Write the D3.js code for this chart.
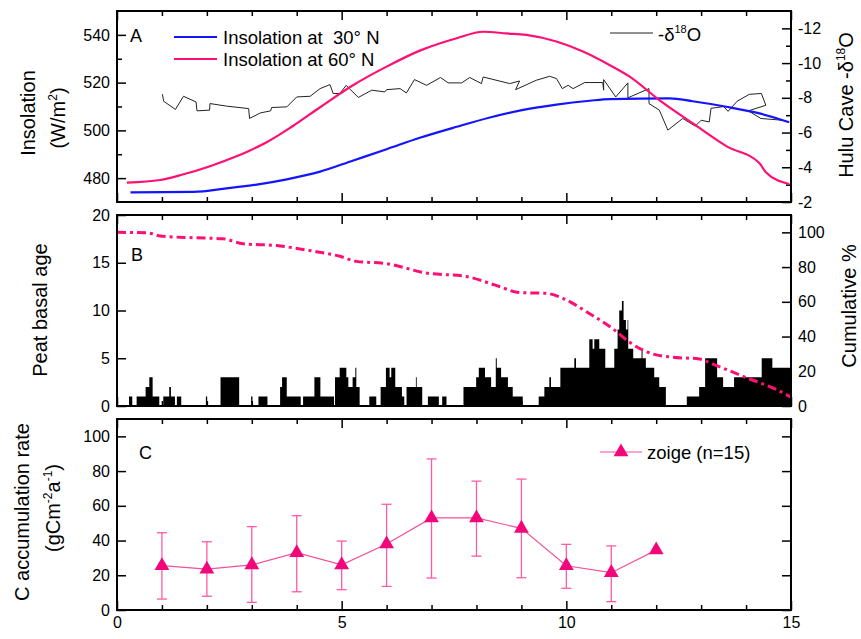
<!DOCTYPE html>
<html>
<head>
<meta charset="utf-8">
<script src="https://cdn.jsdelivr.net/npm/d3@7"></script>
<style>
  body { margin: 0; background: #fff; }
  svg { font-family: "Liberation Sans", Arial, sans-serif; }
  .tick text { font-size: 16px; fill: #000; }
  .tick line { stroke: #000; stroke-width: 1.5; }
</style>
</head>
<body>
<div id="chart"></div>
<script>
/* CONSTANTS AND GLOBALS */
const width = 861;
const height = 639;
const left = 117, right = 791;
const panelA = {top: 11, bottom: 202};
const panelB = {top: 215, bottom: 406};
const panelC = {top: 419, bottom: 610};

const pink = "#ff0f73";
const blue = "#1414ff";
const magenta = "#f2077b";

// DATA
// A: insolation (W/m2), age in ka
const ins30Age = [0.3, 1.7, 2.44, 3.11, 3.78, 4.52, 5.26, 6.0, 6.74, 7.56, 8.3, 9.04, 9.78, 10.52, 10.96, 12.3, 12.81, 13.56, 14.3, 14.96];
const ins30Val = [474, 474.2, 475.7, 477.3, 479.5, 482.7, 487.4, 492.1, 496.9, 501.5, 505.4, 508.6, 510.8, 512.4, 513.1, 513.4, 512.2, 509.9, 507.1, 503.4];
const ins60Age = [0.22, 0.96, 1.48, 2.07, 2.59, 2.96, 3.33, 3.89, 4.52, 5.26, 6.0, 6.74, 7.56, 8.15, 8.67, 9.11, 9.78, 10.37, 10.89, 11.41, 12.07, 12.81, 13.56, 14.3, 14.44, 14.96];
const ins60Val = [478.1, 479.2, 481.6, 485, 488.6, 491.6, 495, 501.5, 509.7, 519, 526.7, 533.4, 538.6, 541.3, 540.6, 540, 537.2, 533, 528.1, 522.5, 512.7, 503, 493.4, 486.2, 482.5, 477.5];
// Hulu cave -d18O (kept in record order, line loops back in places)
const d18Age = [1.01,1.04,1.30,1.48,1.76,1.78,2.06,2.07,2.44,2.93,2.95,3.19,3.42,3.44,3.78,4.0,4.30,4.52,4.74,4.81,4.96,5.10,5.37,5.67,5.96,6.0,6.30,6.44,6.62,6.89,7.2,7.37,7.67,7.85,8.11,8.15,8.74,8.96,8.87,9.33,9.63,9.78,9.91,10.04,10.15,10.41,10.81,10.83,10.83,11.1,11.37,11.37,11.84,11.84,12.07,12.26,12.59,12.87,13.0,13.18,13.22,13.35,13.5,13.6,13.8,14.07,14.34,14.44,14.05,14.33,14.8];
const d18Val = [-8.21,-7.8,-7.33,-8.09,-7.76,-7.25,-7.29,-7.67,-7.52,-7.38,-6.81,-7.13,-7.25,-7.44,-7.48,-8.05,-8.09,-8.53,-8.76,-8.25,-8.25,-8.72,-8.02,-8.44,-8.34,-8.47,-8.53,-8.28,-9.05,-8.72,-9.17,-8.86,-8.86,-9.17,-8.82,-9.2,-8.82,-8.97,-8.47,-9.01,-9.24,-9.11,-8.53,-8.72,-8.53,-8.88,-8.88,-8.44,-9.05,-8.05,-8.86,-8.0,-8.53,-7.67,-7.29,-6.14,-6.81,-6.37,-6.71,-6.61,-7.4,-7.44,-7.5,-7.22,-7.8,-8.2,-8.25,-7.57,-7.25,-6.81,-6.71];

// B: peat basal age histogram (step starts, counts) and cumulative %
const histStart = [0,0.267,0.34,0.437,0.637,0.719,0.793,0.941,1.03,1.163,1.2,1.289,1.333,1.43,1.978,2.007,2.304,2.719,2.985,3.015,3.148,3.348,3.63,3.674,3.778,4.089,4.141,4.393,4.526,4.83,4.852,4.956,5.104,5.148,5.244,5.304,5.326,5.4,5.615,5.77,5.867,5.985,6.067,6.104,6.193,6.341,6.393,6.444,6.652,6.67,6.793,6.919,7.163,7.237,7.333,7.711,7.993,8.052,8.19,8.326,8.43,8.452,8.548,8.7,8.807,9.03,9.385,9.511,9.622,9.659,9.867,10.178,10.215,10.511,10.585,10.622,10.733,10.867,11.067,11.141,11.178,11.237,11.274,11.326,11.363,11.378,11.489,11.674,11.696,11.77,11.956,12.067,12.215,12.681,12.956,13.089,13.356,13.489,13.733,14.348,14.585];
const histCount = [0,1,0,1,2,3,1,0,1,2,1,0,1,0,1,0,3,0,1,0,1,0,2,3,1,0,1,3,1,0,3,4,3,2,3,4,2,0,1,0,2,4,3,4,2,1,0,2,3,2,0,1,0,1,0,2,3,4,3,2,5,4,3,2,1,0,1,2,3,2,4,5,4,7,6,7,6,4,6,8,10,11,9,8,9,6,5,6,5,4,3,2,0,1,2,5,3,2,3,5,4];
const cumAge = [0, 0.66, 0.96, 1.7, 2.36, 2.81, 3.55, 4.29, 4.96, 5.33, 6.0, 6.88, 7.77, 8.29, 8.51, 8.96, 9.55, 9.92, 10.51, 11.03, 11.4, 11.92, 12.36, 12.96, 13.25, 13.99, 14.88, 15];
const cumVal = [100, 99.8, 97.9, 96.9, 96.3, 93.4, 92.4, 89.5, 86.2, 83.3, 82, 76.6, 74.6, 70.7, 68.8, 65.3, 64.9, 62, 53.3, 44.6, 36.8, 30, 28.1, 27.1, 24.2, 16.5, 6.8, 5];

// C: carbon accumulation rate, zoige (n=15)
const cAge = [1, 2, 3, 4, 5, 6, 7, 8, 9, 10, 11, 12];
const cRate = [25.5, 23.5, 26, 33, 26, 38, 53, 53, 47, 25.5, 21.5, 34.5];
const cErrHi = [44.5, 39.3, 48, 54.3, 39.7, 60.9, 87, 74.2, 75.4, 37.8, 36.9, null];
const cErrLo = [6.3, 7.9, 4.4, 10.5, 11.7, 13.6, 18.4, 31, 18.6, 12.5, 4.8, null];

const svg = d3.select("#chart")
  .append("svg")
  .attr("width", width)
  .attr("height", height);

// SCALES
const xScale = d3.scaleLinear().domain([0, 15]).range([left, right]);
const yA = d3.scaleLinear().domain([470, 550]).range([panelA.bottom, panelA.top]);
const yAr = d3.scaleLinear().domain([-2, -13]).range([panelA.bottom, panelA.top]);
const yB = d3.scaleLinear().domain([0, 20]).range([panelB.bottom, panelB.top]);
const yBr = d3.scaleLinear().domain([0, 110]).range([panelB.bottom, panelB.top]);
const yC = d3.scaleLinear().domain([0, 110]).range([panelC.bottom, panelC.top]);

// AXES helper: inward ticks, majors + minors, frame drawn after
function addAxis(axisFn, scale, transform, majors, minors, showLabels) {
  const g = svg.append("g").attr("transform", transform);
  g.call(axisFn(scale).tickValues(majors).tickSize(-9).tickPadding(7)
    .tickFormat(showLabels ? (d => d) : ""));
  g.select(".domain").remove();
  if (minors) {
    const m = svg.append("g").attr("transform", transform);
    m.call(axisFn(scale).tickValues(minors).tickSize(-5).tickFormat(""));
    m.select(".domain").remove();
  }
  return g;
}

const xMajor = [0, 5, 10, 15];
const xMinor = d3.range(1, 15).filter(d => d % 5 !== 0);

[panelA, panelB, panelC].forEach((p, i) => {
  addAxis(d3.axisTop, xScale, `translate(0,${p.top})`, xMajor, xMinor, false);
  addAxis(d3.axisBottom, xScale, `translate(0,${p.bottom})`, xMajor, xMinor, i === 2);
});

// panel A axes
addAxis(d3.axisLeft, yA, `translate(${left},0)`, [480, 500, 520, 540], [490, 510, 530], true);
addAxis(d3.axisRight, yAr, `translate(${right},0)`, [-2, -4, -6, -8, -10, -12], [-3, -5, -7, -9, -11], true);
// panel B axes
addAxis(d3.axisLeft, yB, `translate(${left},0)`, [0, 5, 10, 15, 20], null, true);
addAxis(d3.axisRight, yBr, `translate(${right},0)`, [0, 20, 40, 60, 80, 100], null, true);
// panel C axes
addAxis(d3.axisLeft, yC, `translate(${left},0)`, [0, 20, 40, 60, 80, 100], null, true);
addAxis(d3.axisRight, yC, `translate(${right},0)`, [0, 20, 40, 60, 80, 100], null, false);

svg.selectAll(".tick text").style("font-size", "16px");

// PANEL A lines
const ins30 = ins30Age.map((a, i) => ({a, v: ins30Val[i]}));
const ins60 = ins60Age.map((a, i) => ({a, v: ins60Val[i]}));
const d18 = d18Age.map((a, i) => ({a, v: d18Val[i]}));

const lineA = d3.line().x(d => xScale(d.a)).y(d => yA(d.v)).curve(d3.curveMonotoneX);

svg.append("path")
  .datum(d18)
  .attr("fill", "none")
  .attr("stroke", "#222")
  .attr("stroke-width", 1)
  .attr("d", d3.line().x(d => xScale(d.a)).y(d => yAr(d.v)));

svg.append("path")
  .datum(ins30)
  .attr("fill", "none")
  .attr("stroke", blue)
  .attr("stroke-width", 2.2)
  .attr("d", lineA);

svg.append("path")
  .datum(ins60)
  .attr("fill", "none")
  .attr("stroke", pink)
  .attr("stroke-width", 2.2)
  .attr("d", lineA);

// PANEL B histogram
const hist = histStart.map((s, i) => ({a: s, c: histCount[i]}));
hist.push({a: 15, c: histCount[histCount.length - 1]});

svg.append("path")
  .datum(hist)
  .attr("fill", "#000")
  .attr("d", d3.area()
    .x(d => xScale(d.a))
    .y0(yB(0))
    .y1(d => yB(d.c))
    .curve(d3.curveStepAfter));

const cum = cumAge.map((a, i) => ({a, v: cumVal[i]}));
svg.append("path")
  .datum(cum)
  .attr("fill", "none")
  .attr("stroke", pink)
  .attr("stroke-width", 3)
  .attr("stroke-dasharray", "9,4,3,4")
  .attr("d", d3.line().x(d => xScale(d.a)).y(d => yBr(d.v)).curve(d3.curveMonotoneX));

// PANEL C points with error bars
const cData = cAge.map((a, i) => ({a, v: cRate[i], hi: cErrHi[i], lo: cErrLo[i]}));
const errs = svg.append("g")
  .attr("stroke", "#ff5aa5")
  .attr("stroke-width", 1.3);

cData.filter(d => d.hi !== null).forEach(d => {
  const x = xScale(d.a);
  errs.append("line").attr("x1", x).attr("x2", x).attr("y1", yC(d.hi)).attr("y2", yC(d.lo));
  errs.append("line").attr("x1", x - 5).attr("x2", x + 5).attr("y1", yC(d.hi)).attr("y2", yC(d.hi));
  errs.append("line").attr("x1", x - 5).attr("x2", x + 5).attr("y1", yC(d.lo)).attr("y2", yC(d.lo));
});

svg.append("path")
  .datum(cData)
  .attr("fill", "none")
  .attr("stroke", "#f4509a")
  .attr("stroke-width", 1.2)
  .attr("d", d3.line().x(d => xScale(d.a)).y(d => yC(d.v)));

const tri = d3.symbol().type(d3.symbolTriangle).size(95);
svg.selectAll(".pt")
  .data(cData)
  .join("path")
  .attr("class", "pt")
  .attr("transform", d => `translate(${xScale(d.a)},${yC(d.v)})`)
  .attr("fill", magenta)
  .attr("d", tri);

// FRAMES
[panelA, panelB, panelC].forEach(p => {
  svg.append("rect")
    .attr("x", left).attr("y", p.top)
    .attr("width", right - left).attr("height", p.bottom - p.top)
    .attr("fill", "none")
    .attr("stroke", "#000")
    .attr("stroke-width", 2);
});

// LEGENDS & PANEL LETTERS
function label(x, y, txt, size) {
  return svg.append("text").attr("x", x).attr("y", y)
    .style("font-size", (size || 18.5) + "px").text(txt);
}
label(130, 42, "A", 18);
label(131, 261, "B", 18);
label(139, 459, "C", 18);

svg.append("line").attr("x1", 174).attr("x2", 217).attr("y1", 37).attr("y2", 37)
  .attr("stroke", blue).attr("stroke-width", 2.2);
label(223, 44, "Insolation at  30° N").style("white-space", "pre");
svg.append("line").attr("x1", 174).attr("x2", 217).attr("y1", 59).attr("y2", 59)
  .attr("stroke", pink).attr("stroke-width", 2.2);
label(223, 66, "Insolation at 60° N");

svg.append("line").attr("x1", 610).attr("x2", 653).attr("y1", 33).attr("y2", 33)
  .attr("stroke", "#222").attr("stroke-width", 1);
const dl = label(658, 41, "-δ");
dl.append("tspan").attr("dy", -8).style("font-size", "11px").text("18");
dl.append("tspan").attr("dy", 8).text("O");

svg.append("line").attr("x1", 600).attr("x2", 642).attr("y1", 452).attr("y2", 452)
  .attr("stroke", "#f4509a").attr("stroke-width", 1.2);
svg.append("path").attr("transform", "translate(621,452)").attr("fill", magenta).attr("d", tri);
label(647, 459, "zoige (n=15)");

// AXIS TITLES
function vTitle(x, y, angle) {
  return svg.append("text")
    .attr("transform", `translate(${x},${y}) rotate(${angle})`)
    .attr("text-anchor", "middle")
    .attr("dy", "0.35em")
    .style("font-size", "20px");
}
vTitle(28, 113, -90).text("Insolation");
const wm = vTitle(58, 118, -90).text("(W/m");
wm.append("tspan").attr("dy", -8).style("font-size", "12px").text("2");
wm.append("tspan").attr("dy", 8).text(")");

const hc = vTitle(846, 105, -90).text("Hulu Cave -δ");
hc.append("tspan").attr("dy", -8).style("font-size", "12px").text("18");
hc.append("tspan").attr("dy", 8).text("O");

vTitle(40, 310, -90).text("Peat basal age");
vTitle(849, 306, -90).text("Cumulative %");

vTitle(22, 512, -90).text("C accumulation rate");
const gc = vTitle(53, 508, -90).text("(gCm");
gc.append("tspan").attr("dy", -8).style("font-size", "12px").text("-2");
gc.append("tspan").attr("dy", 8).text("a");
gc.append("tspan").attr("dy", -8).style("font-size", "12px").text("-1");
gc.append("tspan").attr("dy", 8).text(")");
</script>
</body>
</html>
